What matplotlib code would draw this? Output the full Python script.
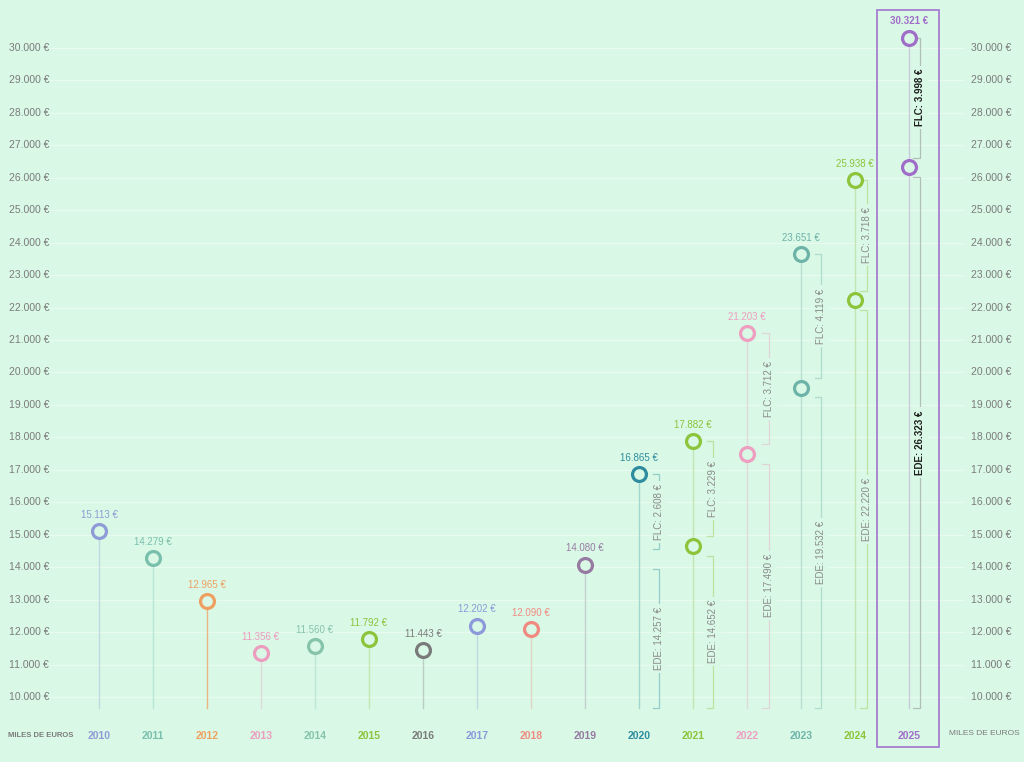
import matplotlib
matplotlib.use("Agg")
import matplotlib.pyplot as plt
import matplotlib.patches as mpatches
from matplotlib import font_manager as fm
from matplotlib.transforms import blended_transform_factory

# The data
years = [2010, 2011, 2012, 2013, 2014, 2015, 2016, 2017,
         2018, 2019, 2020, 2021, 2022, 2023, 2024, 2025]
totals = [15113, 14279, 12965, 11356, 11560, 11792, 11443, 12202,
          12090, 14080, 16865, 17882, 21203, 23651, 25938, 30321]
split_years = [2020, 2021, 2022, 2023, 2024, 2025]
ede_values = [14257, 14652, 17490, 19532, 22220, 26323]
flc_values = [2608, 3229, 3712, 4119, 3718, 3998]
ede_marker_years = [2021, 2022, 2023, 2024, 2025]
year_colors = ["#8e9bd6", "#78bfac", "#eea060", "#ec9cbe", "#86c4aa",
               "#8cc43c", "#7a7a7a", "#8c99da", "#f08a80", "#967aa2",
               "#2e8c9e", "#8cc43c", "#ee9ec0", "#6db3a8", "#8cc43c",
               "#a06ec8"]
y_ticks = list(range(10000, 31000, 1000))
unit_label = "MILES DE EUROS"

BG = "#d9f8e6"
GRID = "#e7fbf0"
TICK_GREY = "#7b7b7b"
# horizontal offset of the EDE/FLC brackets, per split year
bracket_off = [0.37, 0.37, 0.40, 0.37, 0.22, 0.20]


def pick_font():
    for name in ["Liberation Sans Narrow", "Liberation Sans", "DejaVu Sans"]:
        try:
            fm.findfont(fm.FontProperties(family=name),
                        fallback_to_default=False)
            return name
        except ValueError:
            pass
    return "DejaVu Sans"


def euro(v):
    return f"{v:,}".replace(",", ".") + " €"


plt.rcParams["font.family"] = [pick_font(), "DejaVu Sans"]

fig = plt.figure(figsize=(10.24, 7.62), dpi=100, facecolor=BG)
ax = fig.add_axes([0, 0, 1, 1])
ax.set_facecolor(BG)
ax.set_xlim(-99 / 54, (1024 - 99) / 54)
ax.set_ylim(7997, 31479)
ax.axis("off")

base = 9660
xpos = {y: i for i, y in enumerate(years)}
ycol = dict(zip(years, year_colors))
tot = dict(zip(years, totals))
side = blended_transform_factory(ax.transAxes, ax.transData)

# Grid and tick labels on both sides
for t in y_ticks:
    ax.axhline(t, xmin=0.049, xmax=0.94, color=GRID, lw=1.0, zorder=0)
    ax.text(0.009, t, euro(t), transform=side, ha="left", va="center",
            fontsize=7.5, color=TICK_GREY)
    ax.text(0.948, t, euro(t), transform=side, ha="left", va="center",
            fontsize=7.5, color=TICK_GREY)

ax.text(0.008, 8800, unit_label, transform=side, ha="left", va="center",
        fontsize=5.5, color=TICK_GREY, fontweight="bold")
ax.text(0.927, 8890, unit_label, transform=side, ha="left", va="center",
        fontsize=6, color=TICK_GREY)

# Stems, circles, labels
for y, v in zip(years, totals):
    x = xpos[y]
    c = ycol[y]
    alpha = 0.75 if y == 2012 else 0.32
    ax.plot([x, x], [base, v], color=c, lw=1, alpha=alpha, zorder=1)
    ax.plot(x, v, "o", ms=10, mfc=BG, mec=c, mew=2.3, zorder=4)
    bold = "bold" if y == 2025 else "normal"
    ax.annotate(euro(v), (x, v), xytext=(0, 8), textcoords="offset points",
                ha="center", va="bottom", fontsize=7, color=c,
                fontweight=bold, zorder=5)
    ax.text(x, 8800, str(y), ha="center", va="center", fontsize=7.5,
            color=c, fontweight="bold")

for y in ede_marker_years:
    v = ede_values[split_years.index(y)]
    ax.plot(xpos[y], v, "o", ms=10, mfc=BG, mec=ycol[y], mew=2.3, zorder=4)

# Brackets for EDE / FLC split
for y, e, f, off in zip(split_years, ede_values, flc_values, bracket_off):
    x = xpos[y] + off
    lc = "#8a8a8a" if y == 2025 else ycol[y]
    la = 0.5 if y == 2025 else 0.4
    tc = "#1e1e1e" if y == 2025 else "#8a8a8a"
    tw = "bold" if y == 2025 else "normal"
    segs = [(e + 300, tot[y], "FLC: " + euro(f)),
            (base, e - 300, "EDE: " + euro(e))]
    for lo, hi, label in segs:
        ax.plot([x - 0.12, x, x, x - 0.12], [lo, lo, hi, hi],
                color=lc, lw=0.9, alpha=la, zorder=2)
        ax.text(x, (lo + hi) / 2, label, rotation=90, ha="center",
                va="center", fontsize=7, color=tc, fontweight=tw, zorder=3,
                bbox=dict(boxstyle="square,pad=0.3", fc=BG, ec="none"))

# Highlight box for the last year
box = mpatches.Rectangle((14.41, 8459), 1.15, 31171 - 8459, fill=False,
                         ec="#a67ed0", lw=1.3, zorder=6)
ax.add_patch(box)

fig.savefig("out.png", dpi=100, facecolor=BG)
plt.close(fig)
